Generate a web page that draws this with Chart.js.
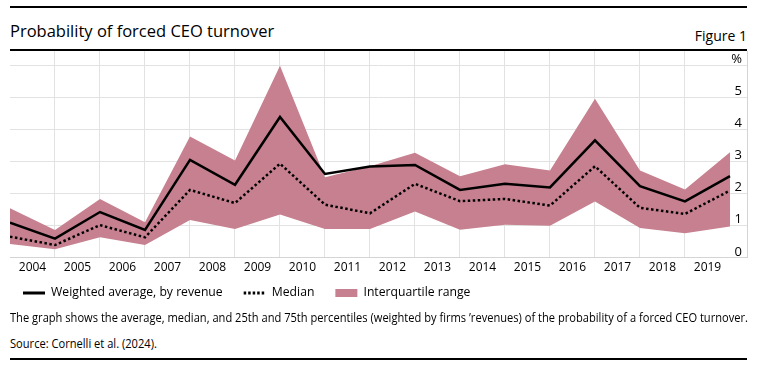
<!DOCTYPE html>
<html>
<head>
<meta charset="utf-8">
<script src="https://cdn.jsdelivr.net/npm/chart.js@4.4.1/dist/chart.umd.min.js"></script>
<style>
html,body{margin:0;padding:0;background:#fff;}
body{width:760px;height:368px;position:relative;overflow:hidden;font-family:"Open Sans",sans-serif;color:#000;}
.rule{position:absolute;left:10px;width:737px;background:#000;}
#r1{top:6px;height:2px;}
#r2{top:49px;height:2px;}
#r3{top:358px;height:1.5px;}
#title{position:absolute;left:10px;top:18px;font-size:16.5px;line-height:26px;white-space:nowrap;}
#fig{position:absolute;right:13px;top:26px;font-size:14px;line-height:20px;white-space:nowrap;}
#wrap{position:absolute;left:0;top:51px;width:760px;height:270px;}
.note{position:absolute;left:10px;font-size:12px;line-height:16px;white-space:nowrap;transform-origin:0 50%;}
#n1{top:310px;}
#n2{top:336px;}
</style>
</head>
<body>
<div class="rule" id="r1"></div>
<div id="title">Probability of forced CEO turnover</div>
<div id="fig">Figure 1</div>
<div class="rule" id="r2"></div>
<div id="wrap"><canvas id="c"></canvas></div>
<div class="note" id="n1">The graph shows the average, median, and 25th and 75th percentiles (weighted by firms ’revenues) of the probability of a forced CEO turnover.</div>
<div class="note" id="n2">Source: Cornelli et al. (2024).</div>
<div class="rule" id="r3"></div>
<script>
// ---- data ----
const YEAR_LABELS = ['2004','2005','2006','2007','2008','2009','2010','2011','2012','2013','2014','2015','2016','2017','2018','2019'];
const POINT_X = [2004,2005,2006,2007,2008,2009,2010,2011,2012,2013,2014,2015,2016,2017,2018,2019,2020];
const WEIGHTED_AVG = [1.10,0.60,1.43,0.87,3.06,2.28,4.40,2.62,2.85,2.90,2.12,2.31,2.20,3.67,2.24,1.76,2.55];
const MEDIAN       = [0.66,0.40,1.02,0.64,2.12,1.71,2.94,1.66,1.39,2.31,1.77,1.84,1.63,2.86,1.56,1.37,2.10];
const P75          = [1.55,0.87,1.84,1.11,3.79,3.04,6.00,2.52,2.86,3.28,2.55,2.92,2.73,4.97,2.73,2.13,3.30];
const P25          = [0.43,0.27,0.64,0.40,1.18,0.90,1.35,0.90,0.90,1.45,0.88,1.03,1.00,1.76,0.93,0.77,0.98];
const Y_TICKS = [0,1,2,3,4,5,6];
const Y_UNIT = '%';
const SERIES_NAMES = ['Weighted average, by revenue','Median','Interquartile range'];

const BAND = '#c6808f';
const GRID = '#e2e2e2';
const FONT = '"Open Sans", sans-serif';

const pts = arr => arr.map((v,i)=>({x:POINT_X[i], y:v}));

// fit footnote widths
(function(){
  const n1 = document.getElementById('n1');
  const w = n1.getBoundingClientRect().width;
  const k = 738 / w;
  n1.style.transform = 'scaleX(' + k + ')';
  document.getElementById('n2').style.transform = 'scaleX(' + k + ')';
})();

Chart.defaults.font.family = FONT;
Chart.defaults.color = '#000';

// lift the legend so it sits just under the year labels
const legendLift = {
  id: 'legendLift',
  afterLayout(chart) {
    const l = chart.legend;
    if (l) { l.top -= 12; l.bottom -= 12; }
  }
};

new Chart(document.getElementById('c'), {
  type: 'line',
  plugins: [legendLift],
  data: {
    datasets: [
      {label: SERIES_NAMES[0], data: pts(WEIGHTED_AVG), borderColor:'#000', borderWidth:2.5, pointRadius:0, fill:false, order:0, tension:0},
      {label: SERIES_NAMES[1], data: pts(MEDIAN), borderColor:'#000', borderWidth:2.5, borderDash:[2.5,2.5], pointRadius:0, fill:false, order:1, tension:0},
      {label: SERIES_NAMES[2], data: pts(P75), borderWidth:0, borderColor:BAND, backgroundColor:BAND, pointRadius:0, fill:'+1', order:2, tension:0},
      {label: 'p25', data: pts(P25), borderWidth:0, borderColor:BAND, backgroundColor:BAND, pointRadius:0, fill:false, order:3, tension:0}
    ]
  },
  options: {
    responsive: true,
    maintainAspectRatio: false,
    animation: false,
    layout: {padding: {left: 2, right: 13, top: 0, bottom: 0}},
    plugins: {
      tooltip: {enabled:false},
      legend: {
        position: 'bottom',
        align: 'start',
        labels: {
          font: {size: 12.2, family: FONT},
          color: '#000',
          padding: 21,
          usePointStyle: true,
          pointStyleWidth: 22,
          boxHeight: 8,
          generateLabels: () => [
            {text: SERIES_NAMES[0], pointStyle:'line', strokeStyle:'#000', fillStyle:'#000', lineWidth:3, lineDash:[], datasetIndex:0, hidden:false},
            {text: SERIES_NAMES[1], pointStyle:'line', strokeStyle:'#000', fillStyle:'#000', lineWidth:3, lineDash:[2.5,2], datasetIndex:1, hidden:false},
            {text: SERIES_NAMES[2], pointStyle:'rect', strokeStyle:BAND, fillStyle:BAND, lineWidth:0, lineDash:[], datasetIndex:2, hidden:false}
          ]
        }
      }
    },
    scales: {
      x: {
        type: 'linear',
        position: 'bottom',
        min: POINT_X[0],
        max: POINT_X[POINT_X.length-1] + 0.378,
        afterBuildTicks: s => { s.ticks = []; for (let i = 0; i <= YEAR_LABELS.length*2; i++) s.ticks.push({value: POINT_X[0] + i/2}); },
        ticks: {
          autoSkip: false, maxRotation: 0, minRotation: 0, padding: 3,
          font: {size: 12, family: FONT}, color: '#000',
          callback: (v) => { const k = (v - POINT_X[0] - 0.5); return (Math.abs(k - Math.round(k)) < 1e-6) ? YEAR_LABELS[Math.round(k)] : ''; }
        },
        grid: {
          drawTicks: false, lineWidth: 1,
          color: ctx => { const v = ctx.tick ? ctx.tick.value : 0; const isInt = Math.abs(v - Math.round(v)) < 1e-6; return (isInt && v > POINT_X[0] && v < POINT_X[POINT_X.length-1]) ? GRID : 'rgba(0,0,0,0)'; }
        },
        border: {display: true, color: '#d4d4d4', width: 1},
        afterFit: s => { s.height = 20; s.paddingLeft = 0; s.paddingRight = 0; }
      },
      y: {
        type: 'linear',
        position: 'right',
        min: 0,
        max: 6.46,
        afterBuildTicks: s => { s.ticks = Y_TICKS.map(v => ({value: v})); },
        ticks: {
          mirror: true, padding: -5, labelOffset: -6,
          font: {size: 13, family: FONT}, color: '#000',
          callback: (v) => v === Y_TICKS[Y_TICKS.length-1] ? Y_UNIT : String(v)
        },
        grid: {drawTicks: false, color: GRID, lineWidth: 1},
        border: {display: true, color: '#d4d4d4', width: 1},
        afterFit: s => { s.width = 0; s.paddingTop = 0; s.paddingBottom = 0; }
      },
      yl: {
        type: 'linear',
        position: 'left',
        display: true,
        grid: {display: false},
        ticks: {display: false},
        border: {display: false},
        afterFit: s => { s.width = 8; s.paddingTop = 0; s.paddingBottom = 0; }
      }
    }
  }
});
</script>
</body>
</html>
